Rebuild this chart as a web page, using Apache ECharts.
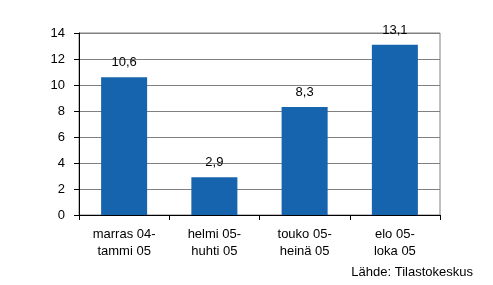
<!DOCTYPE html>
<html><head><meta charset="utf-8">
<script src="https://cdn.jsdelivr.net/npm/echarts@6/dist/echarts.min.js"></script>
<style>html,body{margin:0;padding:0;background:#fff}#c{width:493px;height:285px}</style>
</head><body><div id="c"></div>
<script>
const categories = ["marras 04-\ntammi 05", "helmi 05-\nhuhti 05", "touko 05-\nheinä 05", "elo 05-\nloka 05"];
const values = [10.6, 2.9, 8.3, 13.1];
const yTicks = [0, 2, 4, 6, 8, 10, 12, 14];
const source = "Lähde: Tilastokeskus";

const chart = echarts.init(document.getElementById('c'), null, {renderer: 'canvas'});
const font = '"Liberation Sans", Arial, sans-serif';
chart.setOption({
  animation: false,
  textStyle: {fontFamily: font},
  grid: {left: 79, right: 53, top: 33, bottom: 70, show: true, borderColor: '#808080', borderWidth: 1},
  graphic: [{type: 'text', right: 20, top: 266, style: {text: source, font: '13px ' + font, fill: '#000'}}],
  xAxis: {
    type: 'category', data: categories,
    axisLine: {lineStyle: {color: '#000'}},
    axisTick: {show: true, alignWithLabel: false, length: 5, lineStyle: {color: '#000'}},
    axisLabel: {color: '#000', fontSize: 13, fontFamily: font, lineHeight: 17, margin: 11}
  },
  yAxis: {
    type: 'value', min: yTicks[0], max: yTicks[yTicks.length - 1], interval: 2,
    axisLine: {show: true, lineStyle: {color: '#000'}},
    axisTick: {show: true, length: 5, lineStyle: {color: '#000'}},
    splitLine: {lineStyle: {color: '#808080'}},
    axisLabel: {color: '#000', fontSize: 13, fontFamily: font, margin: 14}
  },
  series: [{
    type: 'bar', data: values, barWidth: '51%',
    itemStyle: {color: '#1764AE'},
    label: {show: true, position: 'top', distance: 8, color: '#000', fontSize: 13, fontFamily: font,
      formatter: p => String(p.value).replace('.', ',')}
  }]
});
</script></body></html>
